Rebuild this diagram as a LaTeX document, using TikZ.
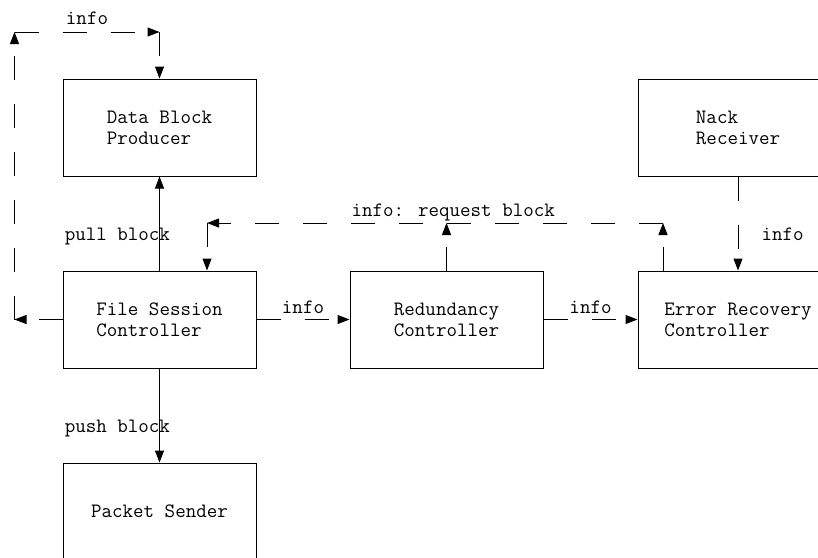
\documentclass[tikz,border=0pt]{standalone}
\usepackage{fontspec}
\usetikzlibrary{arrows.meta,calc}
\newcommand\diafont{\ttfamily\fontsize{20.4}{21}\selectfont}

\begin{document}
\begin{tikzpicture}[x=1pt,y=-1pt,
    box/.style={draw,line width=1pt,minimum width=193pt,minimum height=97pt,
        inner sep=0pt,align=left,font=\diafont},
    flow/.style={line width=1pt,-{Triangle[length=12pt,width=9pt]}},
    info/.style={flow,dash pattern=on 24pt off 24pt},
    lbl/.style={font=\diafont,inner sep=0pt}]
\useasboundingbox (0,0) rectangle (818,557);
\clip (0,0) rectangle (818,557);

% blocks
\node[box] (dbp) at (159.5,127.5) {Data Block\\Producer};
\node[box,minimum width=200pt] (nack) at (738,127.5) {Nack\\Receiver};
\node[box] (fsc) at (159.5,319.5) {File Session\\Controller};
\node[box] (rc) at (446.5,319.5) {Redundancy\\Controller};
\node[box,minimum width=200pt] (erc) at (738,319.5) {Error Recovery\\Controller};
\node[box] (ps) at (159.5,511.5) {Packet Sender};

% corners of the dashed routes
\coordinate (lpbot) at (14.5,319.5);
\coordinate (lptop) at (14.5,32);
\coordinate (rqr) at (663,223);
\coordinate (rql) at (207,223);

% block flow
\draw[flow] (fsc.north) -- (dbp.south)
    node[lbl,midway,anchor=base east,xshift=11pt,yshift=-17pt] {pull block};
\draw[flow] (fsc.south) -- (ps.north)
    node[lbl,midway,anchor=base east,xshift=11pt,yshift=-17pt] {push block};

% info loop to the producer
\draw[info] (fsc.west) -- (lpbot);
\draw[info] (lpbot) -- (lptop);
\draw[info] (lptop) -- (lptop -| dbp.north)
    node[lbl,midway,anchor=base,yshift=7.5pt] {info};
\draw[info] (lptop -| dbp.north) -- (dbp.north);

% info along the chain
\draw[info] (fsc.east) -- (rc.west)
    node[lbl,midway,anchor=base,yshift=6pt] {info};
\draw[info] (rc.east) -- (erc.west)
    node[lbl,midway,anchor=base,yshift=6pt] {info};
\draw[info] (nack.south) -- (erc.north)
    node[lbl,midway,anchor=base west,xshift=23pt,yshift=-17pt] {info};

% request block
\draw[info] (rqr |- erc.north) -- (rqr);
\draw[info] (rc.north) -- (rc.north |- rqr);
\draw[info] (rqr) -- (rql)
    node[lbl,pos=0.46,anchor=base,yshift=6.5pt] {info: request block};
\draw[info] (rql) -- (rql |- fsc.north);
\end{tikzpicture}
\end{document}
